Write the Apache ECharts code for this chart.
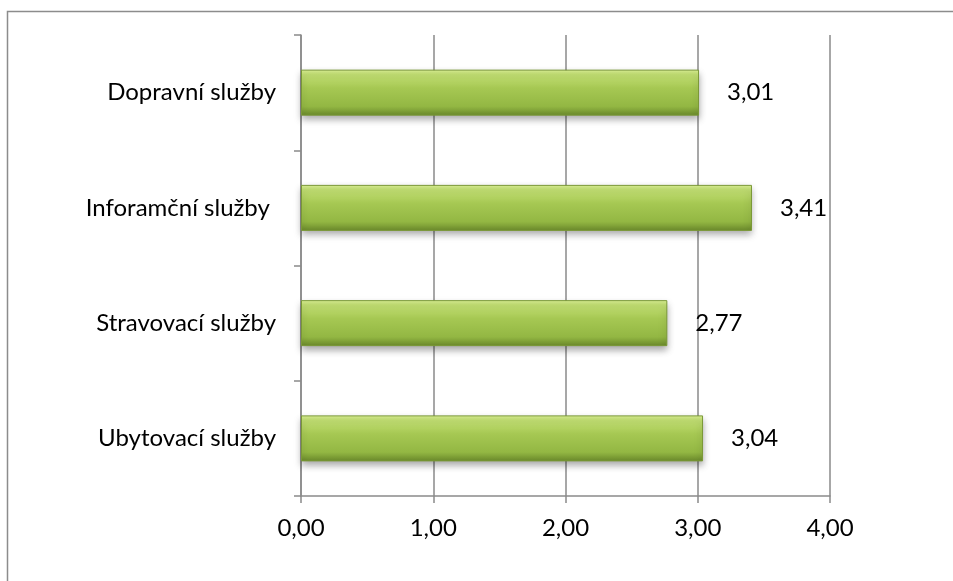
<!DOCTYPE html>
<html>
<head>
<meta charset="utf-8">
<script src="https://cdn.jsdelivr.net/npm/echarts@6/dist/echarts.min.js"></script>
<style>
  html, body { margin: 0; padding: 0; background: #fff; }
  #chart { width: 953px; height: 581px; }
</style>
</head>
<body>
<div id="chart"></div>
<script>
// Service categories, bottom to top as drawn on the category axis
const categories = ['Ubytovací služby', 'Stravovací služby', 'Inforamční služby ', 'Dopravní služby'];
// Average rating for each category
const ratings = [3.04, 2.77, 3.41, 3.01];
// Value axis range and step
const axisMin = 0;
const axisMax = 4;
const axisStep = 1;

const fmt = v => v.toFixed(2).replace('.', ',');
const FONT = 'Lato, "Open Sans", sans-serif';

const chart = echarts.init(document.getElementById('chart'), null, { renderer: 'canvas' });
chart.setOption({
  backgroundColor: '#ffffff',
  animation: false,
  graphic: [{
    type: 'rect',
    shape: { x: 7.5, y: 11.5, width: 1000, height: 700 },
    style: { fill: 'none', stroke: '#8c8c8c', lineWidth: 1.5 },
    silent: true, z: -10
  }],
  grid: { left: 301, right: 123, top: 35, bottom: 85, containLabel: false },
  xAxis: {
    type: 'value',
    min: axisMin, max: axisMax, interval: axisStep,
    axisLine: { show: true, lineStyle: { color: '#8a8a8a', width: 1.5 } },
    axisTick: { show: true, length: 7, lineStyle: { color: '#8a8a8a', width: 1.5 } },
    splitLine: { show: true, lineStyle: { color: '#8a8a8a', width: 1.5 } },
    axisLabel: {
      formatter: v => fmt(v), color: '#000', fontFamily: FONT, fontSize: 24, margin: 20
    }
  },
  yAxis: {
    type: 'category',
    data: categories,
    axisLine: { show: true, lineStyle: { color: '#8a8a8a', width: 1.5 } },
    axisTick: { show: true, length: 7, alignWithLabel: false, lineStyle: { color: '#8a8a8a', width: 1.5 } },
    axisLabel: { color: '#000', fontFamily: FONT, fontSize: 24, margin: 25 }
  },
  series: [{
    type: 'bar',
    data: ratings,
    barWidth: 46,
    itemStyle: {
      color: new echarts.graphic.LinearGradient(0, 0, 0, 1, [
        { offset: 0, color: '#dcf296' },
        { offset: 0.1, color: '#c3e074' },
        { offset: 0.4, color: '#a6c853' },
        { offset: 0.8, color: '#93b743' },
        { offset: 1, color: '#6a892b' }
      ]),
      borderColor: '#7a9836',
      borderWidth: 1,
      shadowColor: 'rgba(0,0,0,0.35)',
      shadowBlur: 7,
      shadowOffsetY: 4
    },
    label: {
      show: true,
      position: 'right',
      distance: 28,
      formatter: p => fmt(p.value),
      color: '#000',
      fontFamily: FONT,
      fontSize: 24
    }
  }]
});
</script>
</body>
</html>
